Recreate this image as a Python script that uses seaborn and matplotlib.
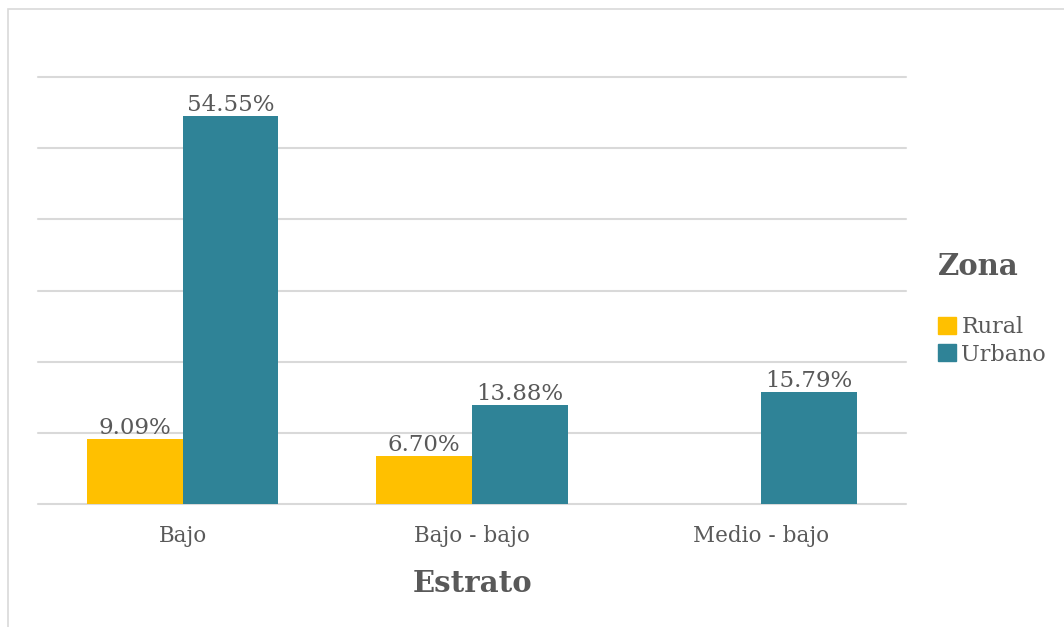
import numpy as np
import pandas as pd
import matplotlib
matplotlib.use("Agg")
import matplotlib.pyplot as plt
import seaborn as sns
from matplotlib.patches import Rectangle

estratos = ["Bajo", "Bajo - bajo", "Medio - bajo"]
rural = [9.09, 6.70, np.nan]
urbano = [54.55, 13.88, 15.79]
zonas = ["Rural", "Urbano"]
colores = {"Rural": "#FFC000", "Urbano": "#2F8397"}

df = pd.DataFrame({
    "Estrato": estratos * 2,
    "Zona": ["Rural"] * 3 + ["Urbano"] * 3,
    "Porcentaje": rural + urbano,
})

sns.set_theme(style="white")
plt.rcParams["font.family"] = ["DejaVu Serif"]
text_color = "#595959"

fig = plt.figure(figsize=(10.64, 6.27), dpi=100)
ax = fig.add_axes([38 / 1064, 1 - 504 / 627, (906 - 38) / 1064, (504 - 77) / 627])

# outer chart frame
fig.patches.append(Rectangle((8 / 1064, -0.01), 1.0, 1 - 9 / 627 + 0.01,
                             transform=fig.transFigure, fill=False,
                             edgecolor="#D9D9D9", linewidth=1.2))

sns.barplot(data=df, x="Estrato", y="Porcentaje", hue="Zona", order=estratos,
            hue_order=zonas, palette=colores, width=0.662, saturation=1,
            linewidth=0, ax=ax, legend=False)

ax.set_ylim(0, 60)
ax.set_xlim(-0.5, 2.5)
ax.set_yticks(np.arange(0, 61, 10))
ax.yaxis.grid(True, color="#D9D9D9", linewidth=1.5)
for gl in ax.get_ygridlines():
    gl.set_clip_on(False)
ax.set_axisbelow(True)
ax.tick_params(axis="y", left=False, labelleft=False)
ax.tick_params(axis="x", bottom=False, labelsize=15.5, labelcolor=text_color, pad=9)
for s in ax.spines.values():
    s.set_visible(False)
ax.set_ylabel("")
ax.set_xlabel("Estrato", fontsize=21, fontweight="bold", color=text_color, labelpad=16)

for cont in ax.containers:
    labels = ["" if np.isnan(v) else f"{v:.2f}%" for v in cont.datavalues]
    ax.bar_label(cont, labels=labels, fontsize=16.5, color=text_color, padding=0)

handles = [Rectangle((0, 0), 1, 1, color=colores[z]) for z in zonas]
leg = fig.legend(handles, zonas, title="Zona", loc="center left",
                 bbox_to_anchor=(918 / 1064, 1 - 309 / 627), frameon=False,
                 fontsize=16, title_fontproperties={"size": 21, "weight": "bold"},
                 handlelength=0.8, handleheight=0.8, handletextpad=0.25,
                 labelspacing=0.25, alignment="left")
leg.get_title().set_color(text_color)
leg._legend_box.sep = 25
for t in leg.get_texts():
    t.set_color(text_color)

fig.savefig("out.png", dpi=100)
